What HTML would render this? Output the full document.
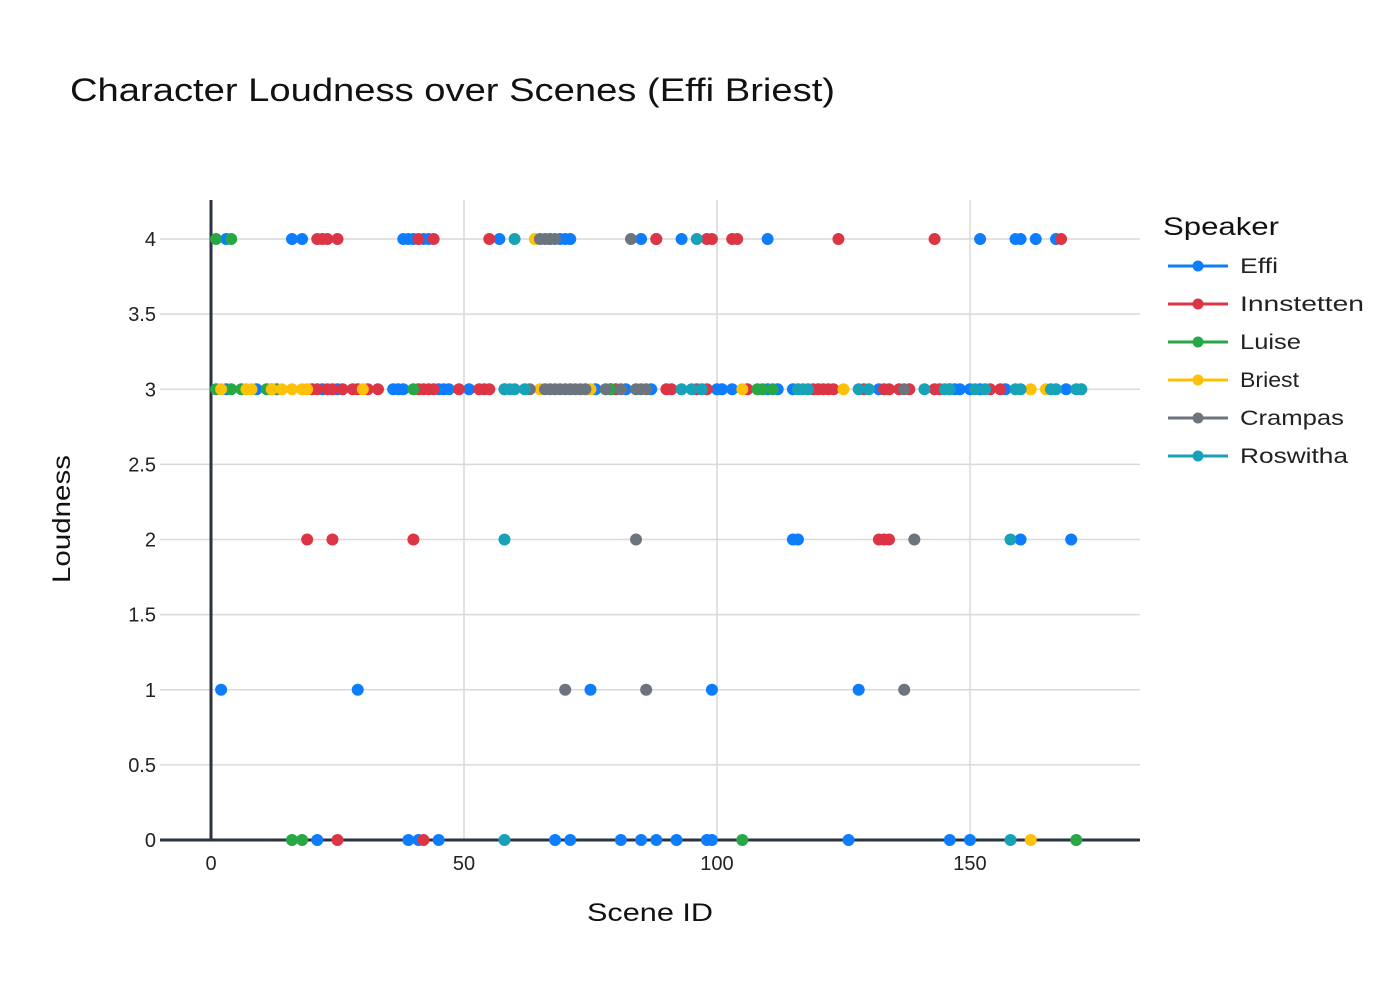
<!DOCTYPE html>
<html><head><meta charset="utf-8"><style>
body{margin:0;background:#fff;font-family:"Liberation Sans",sans-serif}
</style></head><body>
<svg id="chart" width="1400" height="1000" xmlns="http://www.w3.org/2000/svg" font-family="Liberation Sans, sans-serif">
<rect width="1400" height="1000" fill="#fff"/>
<text x="70" y="101" font-size="32" fill="#111" textLength="765" lengthAdjust="spacingAndGlyphs">Character Loudness over Scenes (Effi Briest)</text>
<g id="grid"></g><g id="marks"></g><g id="axes"></g><g id="legend"></g>
<text x="587" y="921" font-size="25" fill="#111" textLength="126" lengthAdjust="spacingAndGlyphs">Scene ID</text>
<text x="0" y="0" font-size="25" fill="#111" textLength="128" lengthAdjust="spacingAndGlyphs" transform="translate(70 583) rotate(-90)">Loudness</text>
</svg>
<script>
const xTicks=[0,50,100,150];
const yTicks=[0,0.5,1,1.5,2,2.5,3,3.5,4];
const names=["Effi","Innstetten","Luise","Briest","Crampas","Roswitha"];
const colors=["#0d7dfe","#dc3545","#28a745","#ffc107","#6c757d","#17a2b8"];
const labelLens=[38,124,61,59,104,108];
const effiX=[3,16,18,38,39,40,42,43,57,67,69,70,71,85,88,93,110,152,159,160,163,167, 3,9,12,22,25,36,37,38,45,46,47,51,58,76,82,87,100,101,103,110,112,115,132,146,147,148,150,152,157,169, 115,116,160,170, 2,29,75,99,128, 21,39,41,45,68,71,81,85,88,92,98,99,126,146,150];
const effiY=[4,4,4,4,4,4,4,4,4,4,4,4,4,4,4,4,4,4,4,4,4,4, 3,3,3,3,3,3,3,3,3,3,3,3,3,3,3,3,3,3,3,3,3,3,3,3,3,3,3,3,3,3, 2,2,2,2, 1,1,1,1,1, 0,0,0,0,0,0,0,0,0,0,0,0,0,0,0];
const innX=[21,22,23,25,41,44,55,88,98,99,103,104,124,143,168, 20,21,23,24,26,28,29,31,33,41,42,43,44,49,53,54,55,79,80,90,91,96,98,106,119,120,121,122,123,129,133,134,136,138,143,144,154,156, 19,24,40,132,133,134, 25,42];
const innY=[4,4,4,4,4,4,4,4,4,4,4,4,4,4,4, 3,3,3,3,3,3,3,3,3,3,3,3,3,3,3,3,3,3,3,3,3,3,3,3,3,3,3,3,3,3,3,3,3,3,3,3,3,3, 2,2,2,2,2,2, 0,0];
const luiX=[1,4, 1,4,6,11,13,40,79,108,109,111, 16,18,105,171];
const luiY=[4,4, 3,3,3,3,3,3,3,3,3,3, 0,0,0,0];
const briX=[64, 2,7,8,12,14,16,18,19,30,65,75,105,125,162,165,172, 162];
const briY=[4, 3,3,3,3,3,3,3,3,3,3,3,3,3,3,3,3, 0];
const craX=[65,66,67,68,83, 63,66,67,68,69,70,71,72,73,74,78,81,84,85,86,137, 84,139, 70,86,137];
const craY=[4,4,4,4,4, 3,3,3,3,3,3,3,3,3,3,3,3,3,3,3,3, 2,2, 1,1,1];
const rosX=[60,96, 58,59,60,62,93,95,97,116,117,118,128,130,141,145,146,151,153,159,160,166,167,171,172, 58,158, 58,158];
const rosY=[4,4, 3,3,3,3,3,3,3,3,3,3,3,3,3,3,3,3,3,3,3,3,3,3,3, 2,2, 0,0];
const seriesX=[effiX,innX,luiX,briX,craX,rosX];
const seriesY=[effiY,innY,luiY,briY,craY,rosY];
const X0=160,X1=1140,Y0=840,Ytop=200;
const xmin=-10.08,xmax=183.6,ymin=0,ymax=4.26;
const sx=v=>X0+(v-xmin)/(xmax-xmin)*(X1-X0);
const sy=v=>Y0-(v-ymin)/(ymax-ymin)*(Y0-Ytop);
const NS="http://www.w3.org/2000/svg";
function mk(tag,attrs,parent){const e=document.createElementNS(NS,tag);for(const k in attrs)e.setAttribute(k,attrs[k]);parent.appendChild(e);return e;}
const grid=document.getElementById('grid'),axes=document.getElementById('axes'),marks=document.getElementById('marks'),legend=document.getElementById('legend');
yTicks.forEach(t=>{
  if(t!==0){const l=mk('line',{x1:X0,x2:X1,y1:sy(t),y2:sy(t),stroke:'#d9d9d9','stroke-width':1.5},grid);
  
  }
  const tx=mk('text',{x:X0-4,y:sy(t)+7,'font-size':20,'text-anchor':'end',fill:'#222'},axes);tx.textContent=t;
  
  
});
xTicks.forEach(t=>{
  if(t!==0){const l=mk('line',{x1:sx(t),x2:sx(t),y1:Ytop,y2:Y0,stroke:'#d9d9d9','stroke-width':1.5},grid);
  
  }
  const tx=mk('text',{x:sx(t),y:Y0+30,'font-size':20,'text-anchor':'middle',fill:'#222'},axes);tx.textContent=t;
  
  
});
const zx=mk('line',{x1:sx(0),x2:sx(0),y1:Ytop,y2:Y0,stroke:'#2a3440','stroke-width':3},grid);


const zy=mk('line',{x1:X0,x2:X1,y1:Y0,y2:Y0,stroke:'#2a3440','stroke-width':3},grid);


seriesX.forEach((xs,i)=>{
  const g=mk('g',{},marks);
  
  
  xs.forEach((x,j)=>{
    const c=mk('circle',{cx:sx(x),cy:sy(seriesY[i][j]),r:6,fill:colors[i]},g);
    
    
  });
});
const lt=mk('text',{x:1163,y:235,'font-size':25,fill:'#111',textLength:116,lengthAdjust:'spacingAndGlyphs'},legend);lt.textContent='Speaker';


names.forEach((n,i)=>{
  const y=266+i*38;
  const g=mk('g',{},legend);
  
  
  mk('line',{x1:1168,x2:1228,y1:y,y2:y,stroke:colors[i],'stroke-width':3},g);
  mk('circle',{cx:1198,cy:y,r:5.5,fill:colors[i]},g);
  const t=mk('text',{x:1240,y:y+7,'font-size':21,fill:'#222',textLength:labelLens[i],lengthAdjust:'spacingAndGlyphs'},g);t.textContent=n;
});
</script>
</body></html>
